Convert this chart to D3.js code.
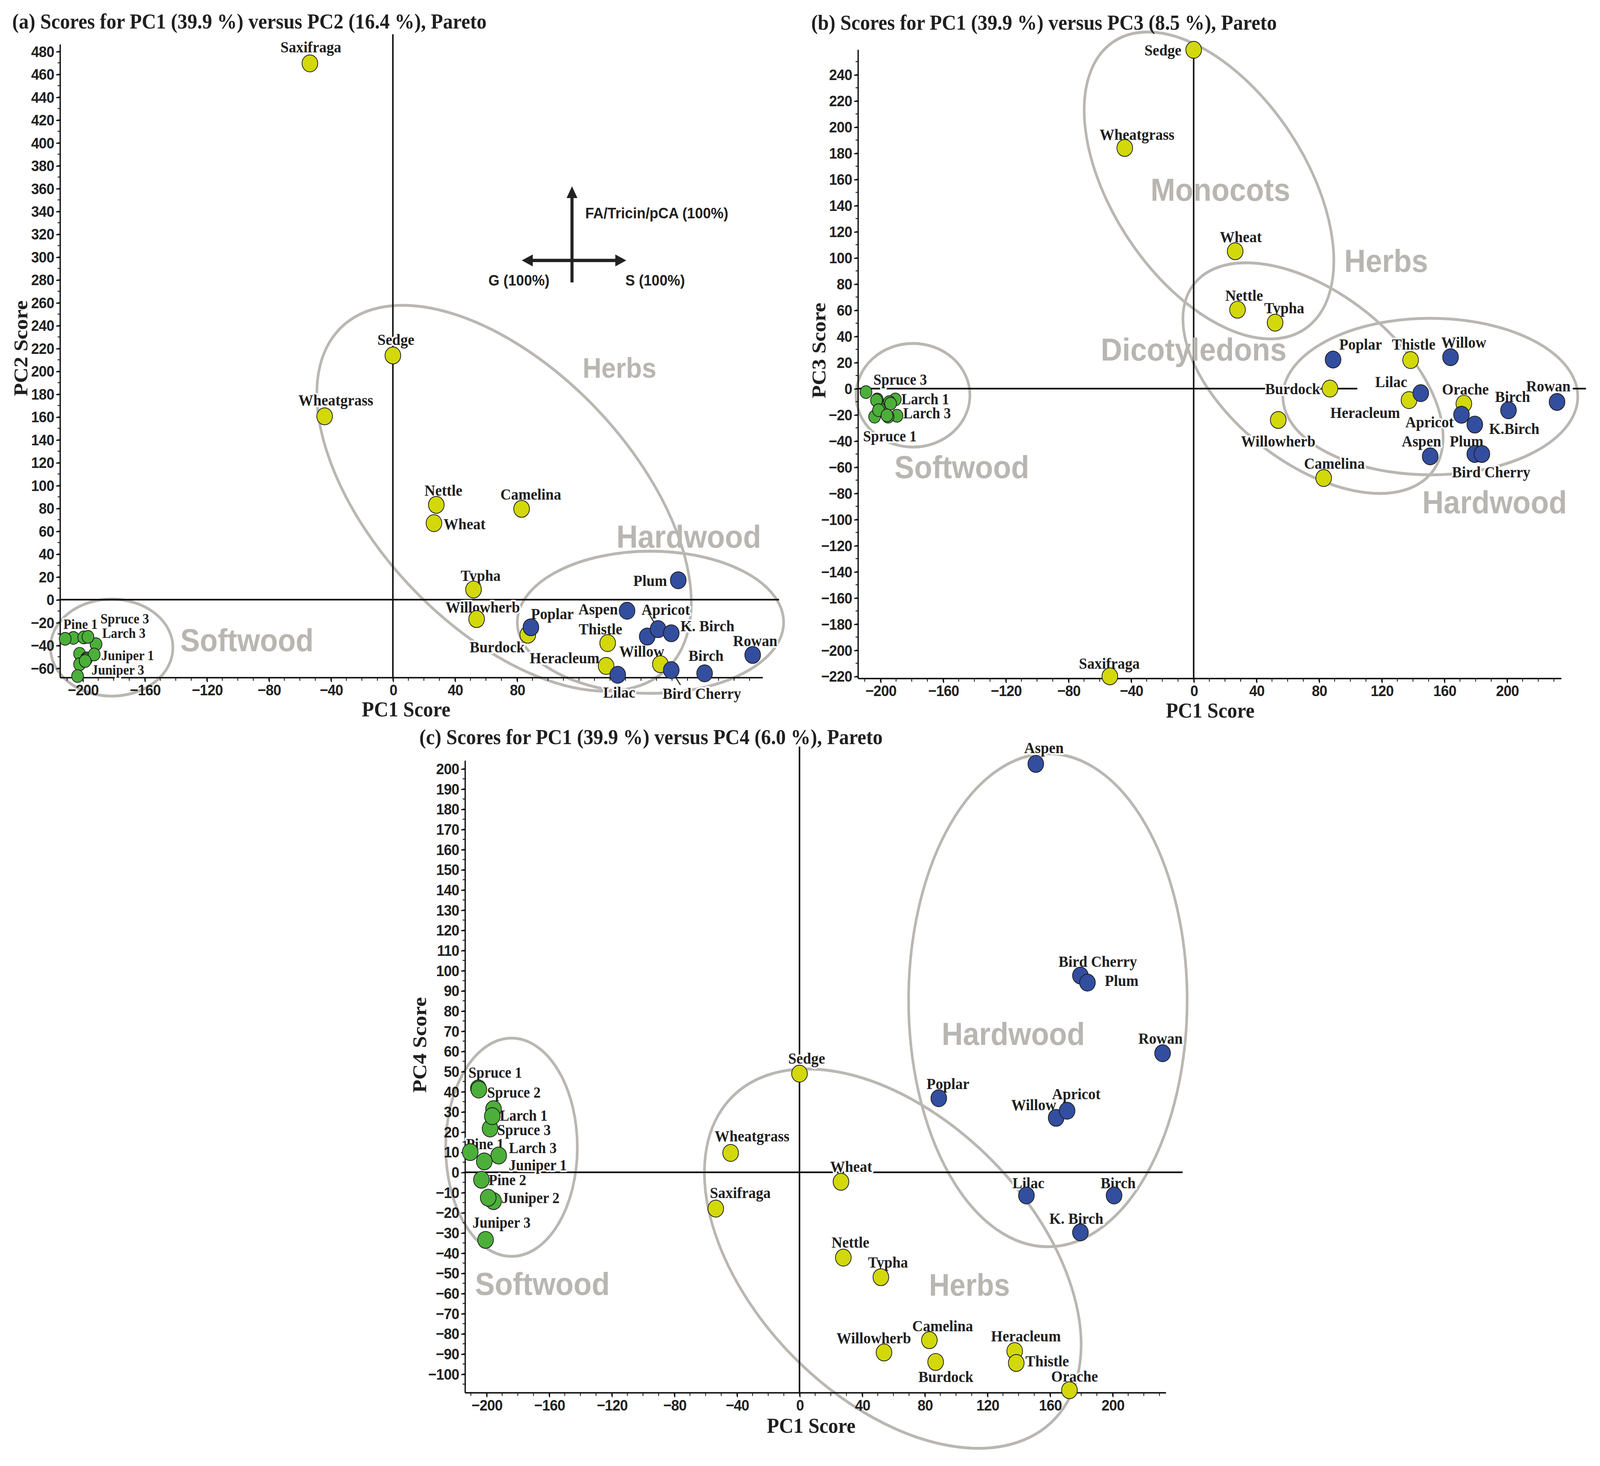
<!DOCTYPE html>
<html lang="en">
<head>
<meta charset="UTF-8">
<title>PCA scores, Pareto</title>
<style>
  * { box-sizing: border-box; margin: 0; padding: 0; }
  html, body { background: #fff; overflow: hidden; }
  svg { display: block; width: 100vw; height: 100vh; }
  .title, .axis-title, .pt-label {
    font-family: "Liberation Serif", "Times New Roman", serif;
    font-weight: bold;
    fill: #1f1f1f;
  }
  .pt-label { paint-order: stroke; stroke: #fff; stroke-width: 3px; stroke-linejoin: round; }
  .tick-label { font-family: "Liberation Sans", Arial, sans-serif; font-weight: bold; font-size: 14px; letter-spacing: -0.3px; fill: #222; }
  .group-label { font-family: "Liberation Sans", Arial, sans-serif; font-weight: bold; fill: #b9b6b1; }
  .compass-label { font-family: "Liberation Sans", Arial, sans-serif; font-weight: bold; font-size: 14px; fill: #222; }
  .envelope { fill: none; stroke: #bab7b2; stroke-width: 2.6px; }
  .axis-line { stroke: #111; stroke-width: 1.3px; }
  .zero-line { stroke: #111; stroke-width: 1.5px; }
  .pt { stroke: #1a1a1a; stroke-width: 0.7px; }
  .leader { stroke: #222; stroke-width: 1px; }
</style>
</head>
<body>
<svg id="chart"></svg>
<script src="https://d3js.org/d3.v7.min.js"></script>
<script>
// ---- data: herbs and hardwoods ----
const samples = ["Sedge", "Wheatgrass", "Saxifraga", "Wheat", "Nettle", "Typha", "Willowherb",
  "Camelina", "Burdock", "Heracleum", "Thistle", "Orache",
  "Poplar", "Aspen", "Lilac", "Willow", "Apricot", "K. Birch", "Bird Cherry", "Plum", "Birch", "Rowan"];
const sampleType = ["herb", "herb", "herb", "herb", "herb", "herb", "herb", "herb", "herb", "herb", "herb", "herb",
  "hardwood", "hardwood", "hardwood", "hardwood", "hardwood", "hardwood", "hardwood", "hardwood", "hardwood", "hardwood"];
const pc1 = [0, -44, -53.5, 26.5, 28, 52, 54, 83, 87, 137.5, 138.5, 172.5,
  89, 151, 145, 164, 171, 179.5, 179.5, 184, 201, 232];
const pc2 = [213.8, 160.5, 469.5, 67, 83, 8.9, -17, 79.5, -30.7, -58, -38, -56.5,
  -24.2, -9.7, -65.8, -32.3, -25.8, -29.4, -61.7, 17, -64.5, -48.4];
const pc3 = [259, 184, -220, 105, 60.3, 50.4, -24, -68.4, 0, -8.8, 21.8, -11.6,
  22.2, -51.8, -3.5, 24, -20, -27.5, -50, -50, -16.6, -10.2];
const pc4 = [48.9, 9.6, -18, -4.7, -42.3, -52, -89.3, -83.2, -94, -88.6, -94.5, -108,
  36.7, 202.4, -11.5, 27, 30.5, -29.8, 97.5, 94, -11.5, 59];

// ---- data: softwoods (read separately in each plot) ----
const softwoods = ["Spruce 1", "Spruce 2", "Spruce 3", "Larch 1", "Larch 2", "Larch 3",
  "Pine 1", "Pine 2", "Pine 3", "Juniper 1", "Juniper 2", "Juniper 3"];
const softPC1a = [-206, -202, -199.3, -191.4, -197.5, -196.6, -211.3, -202, -197.8, -192.6, -198.4, -203.3];
const softPC2 = [-33.5, -47.4, -33.1, -39, -51.4, -32.6, -34.3, -56.6, -52.5, -48, -53.7, -66.9];
const softPC1b = [-203.7, -202, -209.2, -190.5, -194.3, -189.4, -200.6, -195.1, -202.5, -193.5, -201.2, -195.8];
const softPC3 = [-21.5, -8.3, -2.7, -8.3, -10.3, -20.8, -15.5, -21.5, -9, -11.5, -16.5, -20.5];
const softPC1c = [-205.2, -204.9, -197.7, -195.5, -196.3, -192.2, -210.4, -203.2, -195.5, -201.4, -198.9, -200.6];
const softPC4 = [41.6, 41, 21.7, 31.3, 27.8, 8.3, 10, -3.7, -14.3, 5.4, -12.6, -33.5];

const colours = { herb: "#d2d80a", hardwood: "#334e9f", softwood: "#4caf3a" };

// label offsets from the point, in px: [dx, dy, anchor, text]
const labelsA = {
  "Saxifraga": [1, -15], "Sedge": [3, -14.7], "Wheatgrass": [11, -15], "Nettle": [7, -13.4],
  "Wheat": [9.4, 0.5, "start"], "Camelina": [9, -13.4], "Typha": [7, -13], "Willowherb": [6, -11],
  "Burdock": [-30, 11], "Poplar": [21, -12.6], "Aspen": [-9, -1.7, "end"], "Apricot": [7.5, -18],
  "K. Birch": [9, -7, "start"], "Thistle": [-7, -13], "Heracleum": [-6.5, -7.5, "end"],
  "Willow": [-5.4, 13.3], "Lilac": [1.5, 15.5], "Bird Cherry": [30, 21], "Birch": [1.4, -16.3],
  "Rowan": [2.5, -13], "Plum": [-11, 0, "end"]
};
const leadersA = { "Apricot": [-9, -14], "Bird Cherry": [9, 13.5] };
const softLabelsA = {
  "Pine 1": [15, -13.5], "Spruce 3": [16.4, -17.1, "start"], "Larch 3": [14, -3.4, "start"],
  "Juniper 1": [7, 0.6, "start"], "Juniper 3": [13.7, -5.8, "start"]
};
const labelsB = {
  "Sedge": [-12, 0, "end"], "Wheatgrass": [12, -12.5], "Wheat": [5.5, -13.4], "Nettle": [6.5, -13],
  "Typha": [9, -13.7], "Poplar": [27, -14], "Thistle": [3, -14.6], "Willow": [13, -13.8],
  "Burdock": [-9.5, 0, "end"], "Lilac": [-29, -10.4], "Heracleum": [-43, 11.3], "Orache": [1.5, -13.3],
  "Apricot": [-31.3, 6.4], "Birch": [4, -12.5], "Rowan": [-8.5, -14.7], "K. Birch": [14, 3.4, "start", "K.Birch"],
  "Willowherb": [0, 19], "Aspen": [-8.5, -14], "Plum": [-15, -11.7], "Bird Cherry": [16, 16],
  "Camelina": [10.5, -13.4], "Saxifraga": [-0.5, -12]
};
const softLabelsB = {
  "Spruce 3": [7.3, -11.6, "start"], "Larch 1": [6, -0.5, "start"], "Larch 3": [6, -2.5, "start"],
  "Spruce 1": [-11.3, 17.4, "start"]
};
const labelsC = {
  "Aspen": [8, -15], "Bird Cherry": [17, -13], "Plum": [17, -2, "start"], "Rowan": [-2, -13.7],
  "Poplar": [9, -13.4], "Apricot": [9, -15.5], "Willow": [-22, -12], "Lilac": [2, -11.6],
  "Birch": [4, -11.6], "K. Birch": [-4, -13], "Sedge": [7, -14], "Wheatgrass": [21, -15.5],
  "Wheat": [10, -14], "Saxifraga": [24, -14.6], "Nettle": [7, -14], "Typha": [7, -13.7],
  "Willowherb": [-10, -13.3], "Camelina": [13, -13.3], "Burdock": [10, 13], "Heracleum": [11, -13.8],
  "Thistle": [9, -2, "start"], "Orache": [5, -13]
};
const softLabelsC = {
  "Spruce 1": [-9.7, -14.5, "start"], "Spruce 2": [8.1, 2.4, "start"], "Larch 1": [6.1, 5.5, "start"],
  "Spruce 3": [7, 1, "start"], "Pine 1": [-4, -7.4, "start"], "Larch 3": [10, -7, "start"],
  "Juniper 1": [24, 3.2, "start"], "Pine 2": [7, 0, "start"], "Juniper 2": [13, 0, "start"],
  "Juniper 3": [-12.8, -15.8, "start"]
};

const panels = [
  {
    title: "(a) Scores for PC1 (39.9 %) versus PC2 (16.4 %), Pareto", titlePos: [12, 26],
    yTitle: "PC2 Score", yTitlePos: [20, 316], xTitlePos: [398, 650],
    pcY: pc2, softX: softPC1a, softY: softPC2,
    xDomain: [-214.5, 238.5], xRange: [59, 747.5],
    yDomain: [-68.3, 486], yRange: [614.8, 40.4],
    xTicks: d3.range(-200, 81, 40), yTicks: d3.range(-60, 481, 20), yMinor: 10,
    zeroTop: 495, zeroH: [[-214.5, 249]],
    r: 7.7, softR: 5.8, labelSize: 14.5, softSize: 12.7,
    labels: labelsA, leaders: leadersA, softLabels: softLabelsA,
    envelopes: [
      { cx: -181.3, cy: -42, rx: 60, ry: 44, angle: 0 },
      { cx: 71.7, cy: 88.8, rx: 222.7, ry: 121.2, angle: 42.5 },
      { cx: 166.1, cy: -19.8, rx: 130.5, ry: 64.5, angle: 0 }
    ],
    groups: [["Herbs", 146.1, 203.3, 25.5], ["Hardwood", 190.8, 55.6, 29], ["Softwood", -94.1, -35.2, 28.7]],
    compass: { cx: 115.5, cy: 297, up: 64, down: 20, left: 46, right: 50,
      labels: [["FA/Tricin/pCA (100%)", 13, -43.3, "start"], ["G (100%)", -52, 17.7, "middle"], ["S (100%)", 81.5, 17.7, "middle"]] }
  },
  {
    title: "(b) Scores for PC1 (39.9 %) versus PC3 (8.5 %), Pareto", titlePos: [795, 27],
    yTitle: "PC3 Score", yTitlePos: [802, 318], xTitlePos: [1186, 651],
    pcY: pc3, softX: softPC1b, softY: softPC3,
    xDomain: [-214.2, 234.8], xRange: [841, 1530.2],
    yDomain: [-221.7, 259], yRange: [615.6, 45.2],
    xTicks: d3.range(-200, 201, 40), yTicks: d3.range(-220, 241, 20), yMinor: 10,
    zeroTop: 263.6, zeroH: [[-214.2, 104.5], [242, 250.5]],
    r: 7.7, softR: 5.8, labelSize: 14.5, softSize: 14,
    labels: labelsB, leaders: {}, softLabels: softLabelsB,
    envelopes: [
      { cx: 9.8, cy: 155.3, rx: 160.7, ry: 92.3, angle: 52.4 },
      { cx: 76.2, cy: 8.0, rx: 144.7, ry: 79.1, angle: 34.4 },
      { cx: 151.1, cy: -6.1, rx: 144.5, ry: 71, angle: 0 },
      { cx: -179.2, cy: -5.1, rx: 55.8, ry: 47, angle: 0 }
    ],
    groups: [["Monocots", 17.1, 152.5, 29], ["Herbs", 122.9, 97.9, 29], ["Dicotyledons", 0, 30.3, 29],
      ["Softwood", -148, -59.6, 29], ["Hardwood", 192.1, -86.4, 29]]
  },
  {
    title: "(c) Scores for PC1 (39.9 %) versus PC4 (6.0 %), Pareto", titlePos: [411, 675],
    yTitle: "PC4 Score", yTitlePos: [411, 948], xTitlePos: [795, 1300],
    pcY: pc4, softX: softPC1c, softY: softPC4,
    xDomain: [-213.6, 234.2], xRange: [455.9, 1142.7],
    yDomain: [-109.3, 204], yRange: [1263.6, 690.1],
    xTicks: d3.range(-200, 201, 40), yTicks: d3.range(-100, 201, 10), yMinor: 5,
    zeroTop: 211, zeroH: [[-213.6, 244.8]],
    r: 7.7, softR: 7.7, labelSize: 14.5, softSize: 14,
    labels: labelsC, leaders: {}, softLabels: softLabelsC,
    envelopes: [
      { cx: 158.7, cy: 85.3, rx: 136.5, ry: 223.7, angle: 0 },
      { cx: 59.6, cy: -42.8, rx: 215.5, ry: 131.3, angle: 40.6 },
      { cx: -184, cy: 12.4, rx: 64.5, ry: 99, angle: 0 }
    ],
    groups: [["Hardwood", 136.6, 68.8, 28.7], ["Softwood", -164.3, -55, 29], ["Herbs", 108.6, -55.7, 28]]
  }
];

// the figure is laid out on a 1568 x 1330 grid and stretched to fill the window
const svg = d3.select("#chart")
  .attr("viewBox", "0 0 1568 1330")
  .attr("preserveAspectRatio", "none");

svg.append("rect").attr("width", 1568).attr("height", 1330).attr("fill", "#fff");

svg.append("defs").append("marker")
  .attr("id", "arrowhead")
  .attr("viewBox", "0 0 10 10")
  .attr("refX", 7).attr("refY", 5)
  .attr("markerWidth", 3.6).attr("markerHeight", 3.6)
  .attr("orient", "auto-start-reverse")
  .append("path").attr("d", "M0,0 L10,5 L0,10 z").attr("fill", "#222");

const fmt = d3.format("d");

function drawPanel(p) {
  const g = svg.append("g");
  const x = d3.scaleLinear().domain(p.xDomain).range(p.xRange);
  const y = d3.scaleLinear().domain(p.yDomain).range(p.yRange);
  const left = p.xRange[0], right = p.xRange[1], bottom = p.yRange[0], top = p.yRange[1];

  // group envelopes
  g.selectAll(".envelope")
    .data(p.envelopes)
    .enter().append("ellipse")
    .attr("class", "envelope")
    .attr("rx", d => d.rx)
    .attr("ry", d => d.ry)
    .attr("transform", d => `translate(${x(d.cx)},${y(d.cy)}) rotate(${d.angle})`);

  // zero lines
  g.append("line").attr("class", "zero-line")
    .attr("x1", x(0)).attr("x2", x(0))
    .attr("y1", y(p.zeroTop)).attr("y2", bottom);
  p.zeroH.forEach(seg => {
    g.append("line").attr("class", "zero-line")
      .attr("x1", x(seg[0])).attr("x2", x(seg[1]))
      .attr("y1", y(0)).attr("y2", y(0));
  });

  // axes
  g.append("line").attr("class", "axis-line").attr("x1", left).attr("x2", left).attr("y1", top).attr("y2", bottom);
  g.append("line").attr("class", "axis-line").attr("x1", left).attr("x2", right).attr("y1", bottom).attr("y2", bottom);

  const yAxis = g.append("g").attr("transform", `translate(${left},0)`)
    .call(d3.axisLeft(y).tickValues(p.yTicks).tickSize(4).tickPadding(2).tickFormat(fmt));
  const xAxis = g.append("g").attr("transform", `translate(0,${bottom})`)
    .call(d3.axisBottom(x).tickValues(p.xTicks).tickSize(4).tickPadding(2).tickFormat(fmt));
  [yAxis, xAxis].forEach(a => {
    a.select(".domain").remove();
    a.attr("font-size", null).attr("font-family", null);
    a.selectAll("text").attr("class", "tick-label");
    a.selectAll("line").attr("stroke", "#111");
  });

  const yMinor = d3.range(Math.ceil(p.yDomain[0] / p.yMinor) * p.yMinor, p.yDomain[1], p.yMinor);
  g.selectAll(".ymin").data(yMinor).enter().append("line")
    .attr("x1", left - 2.5).attr("x2", left)
    .attr("y1", d => y(d)).attr("y2", d => y(d))
    .attr("stroke", "#111").attr("stroke-width", 0.8);
  const xMinor = d3.range(Math.ceil(p.xDomain[0] / 10) * 10, p.xDomain[1], 10);
  g.selectAll(".xmin").data(xMinor).enter().append("line")
    .attr("x1", d => x(d)).attr("x2", d => x(d))
    .attr("y1", bottom).attr("y2", bottom + 2.8)
    .attr("stroke", "#111").attr("stroke-width", 0.8);

  // group names
  g.selectAll(".group-label")
    .data(p.groups)
    .enter().append("text")
    .attr("class", "group-label")
    .attr("x", d => x(d[1]))
    .attr("y", d => y(d[2]))
    .attr("dy", "0.36em")
    .attr("text-anchor", "middle")
    .style("font-size", d => d[3] + "px")
    .text(d => d[0]);

  // compass arrows (panel a)
  if (p.compass) {
    const c = p.compass;
    const cx = x(c.cx), cy = y(c.cy);
    g.append("line").attr("x1", cx).attr("x2", cx).attr("y1", cy + c.down).attr("y2", cy - c.up)
      .attr("stroke", "#222").attr("stroke-width", 3).attr("marker-end", "url(#arrowhead)");
    g.append("line").attr("x1", cx - c.left).attr("x2", cx + c.right).attr("y1", cy).attr("y2", cy)
      .attr("stroke", "#222").attr("stroke-width", 3)
      .attr("marker-start", "url(#arrowhead)").attr("marker-end", "url(#arrowhead)");
    g.selectAll(".compass-label").data(c.labels).enter().append("text")
      .attr("class", "compass-label")
      .attr("x", d => cx + d[1]).attr("y", d => cy + d[2])
      .attr("dy", "0.36em").attr("text-anchor", d => d[3])
      .text(d => d[0]);
  }

  const pts = samples.map((name, i) => ({ name, type: sampleType[i], px: pc1[i], py: p.pcY[i], lab: p.labels[name], size: p.labelSize, r: p.r }));
  const soft = softwoods.map((name, i) => ({ name, type: "softwood", px: p.softX[i], py: p.softY[i], lab: p.softLabels[name], size: p.softSize, r: p.softR }));
  const all = soft.concat(pts);

  // point labels
  g.selectAll(".pt-label")
    .data(all.filter(d => d.lab))
    .enter().append("text")
    .attr("class", "pt-label")
    .attr("x", d => x(d.px) + d.lab[0])
    .attr("y", d => y(d.py) + d.lab[1])
    .attr("dy", "0.35em")
    .attr("text-anchor", d => d.lab[2] || "middle")
    .style("font-size", d => d.size + "px")
    .text(d => d.lab[3] || d.name);

  // leader lines
  g.selectAll(".leader")
    .data(pts.filter(d => p.leaders[d.name]))
    .enter().append("line")
    .attr("class", "leader")
    .attr("x1", d => x(d.px)).attr("y1", d => y(d.py))
    .attr("x2", d => x(d.px) + p.leaders[d.name][0])
    .attr("y2", d => y(d.py) + p.leaders[d.name][1]);

  // points
  g.selectAll(".pt")
    .data(all)
    .enter().append("circle")
    .attr("class", "pt")
    .attr("cx", d => x(d.px))
    .attr("cy", d => y(d.py))
    .attr("r", d => d.r)
    .attr("fill", d => colours[d.type]);

  // titles
  svg.append("text").attr("class", "title")
    .attr("x", p.titlePos[0]).attr("y", p.titlePos[1])
    .style("font-size", "19.4px")
    .text(p.title);
  svg.append("text").attr("class", "axis-title")
    .attr("x", p.xTitlePos[0]).attr("y", p.xTitlePos[1])
    .attr("text-anchor", "middle")
    .style("font-size", "19.5px")
    .text("PC1 Score");
  svg.append("text").attr("class", "axis-title")
    .attr("transform", `translate(${p.yTitlePos[0]},${p.yTitlePos[1]}) rotate(-90)`)
    .attr("dy", "0.35em")
    .attr("text-anchor", "middle")
    .style("font-size", "19.5px")
    .text(p.yTitle);
}

panels.forEach(drawPanel);
</script>
</body>
</html>
